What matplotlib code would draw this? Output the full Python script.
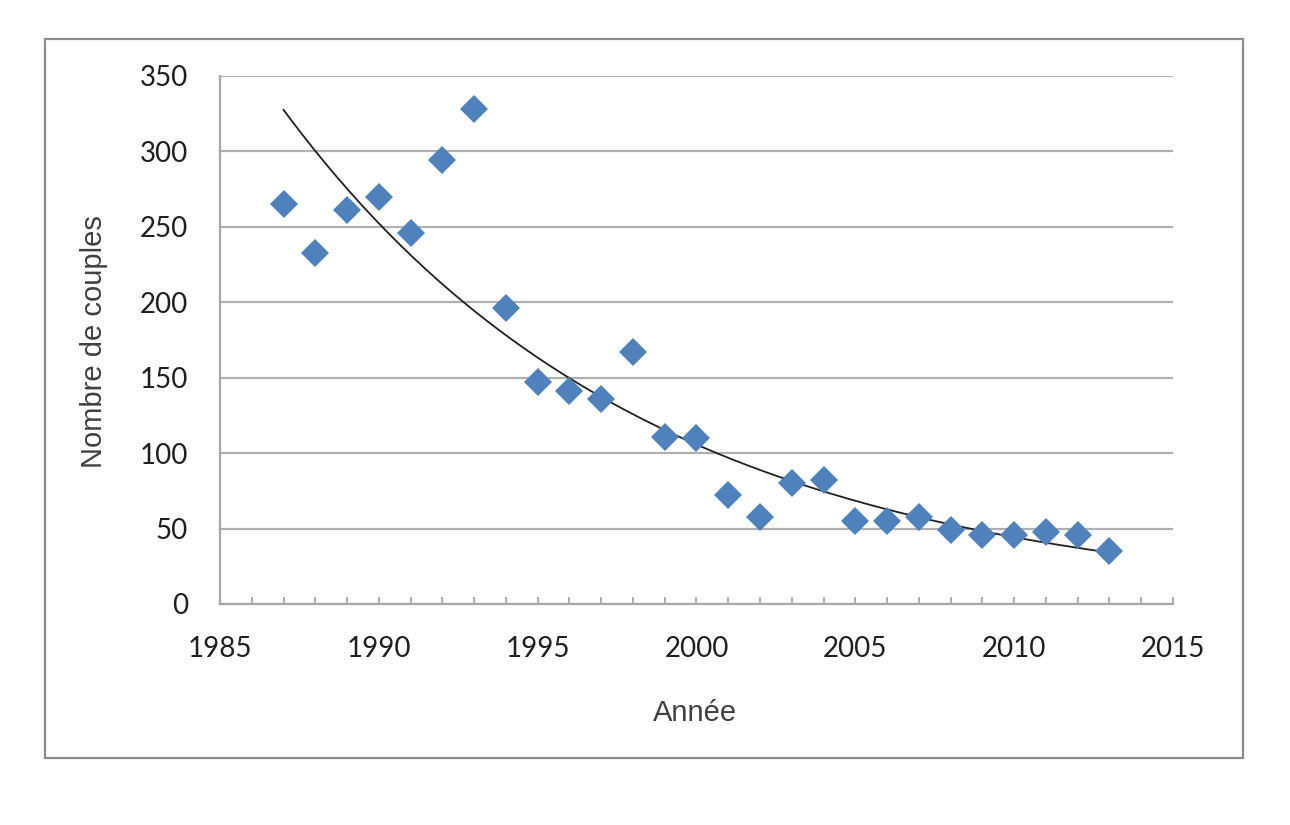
import numpy as np
import matplotlib
matplotlib.use("Agg")
import matplotlib.pyplot as plt
from matplotlib.patches import Rectangle
from matplotlib.ticker import MultipleLocator

years = [1987, 1988, 1989, 1990, 1991, 1992, 1993, 1994, 1995, 1996, 1997, 1998, 1999,
         2000, 2001, 2002, 2003, 2004, 2005, 2006, 2007, 2008, 2009, 2010, 2011, 2012, 2013]
couples = [265, 233, 261, 270, 246, 294, 328, 196, 147, 141, 136, 167, 111,
           110, 72, 58, 80, 82, 55, 55, 58, 49, 46, 46, 48, 46, 35]
x_ticks = [1985, 1990, 1995, 2000, 2005, 2010, 2015]
y_ticks = [0, 50, 100, 150, 200, 250, 300, 350]

fig = plt.figure(figsize=(12.9, 8.25), dpi=100)
ax = fig.add_axes([220/1290, 1 - 604/825, (1173-220)/1290, (604-76)/825])

# outer chart border
fig.patches.append(Rectangle((45/1290, 1 - 758/825), (1243-45)/1290, (758-39)/825,
                             transform=fig.transFigure, fill=False,
                             edgecolor="#8c8c8c", linewidth=1.6))

# exponential trend (least squares on log values)
yrs = np.array(years, dtype=float)
b, a = np.polyfit(yrs - yrs[0], np.log(couples), 1)
xs = np.linspace(yrs[0], yrs[-1], 200)
ax.plot(xs, np.exp(a + b * (xs - yrs[0])), color="#202020", linewidth=1.3, zorder=3)

ax.plot(years, couples, linestyle="none", marker="D", markersize=14.2,
        color="#4F81BD", markeredgewidth=0, zorder=4)

ax.set_xlim(1985, 2015)
ax.set_ylim(0, 350)
ax.set_xticks(x_ticks)
ax.set_yticks(y_ticks)
ax.xaxis.set_minor_locator(MultipleLocator(1))

ax.grid(axis="y", color="#b0b0b0", linewidth=1.6)
ax.set_axisbelow(True)
for s in ["top", "right"]:
    ax.spines[s].set_visible(False)
for s in ["left", "bottom"]:
    ax.spines[s].set_color("#a6a6a6")
    ax.spines[s].set_linewidth(1.6)

ax.tick_params(axis="x", which="both", direction="in", length=5, width=1.3,
               color="#a6a6a6", pad=23)
ax.tick_params(axis="y", which="both", length=0, pad=23)
for lab in ax.get_xticklabels() + ax.get_yticklabels():
    lab.set_fontfamily("Lato")
    lab.set_fontsize(20)
    lab.set_color("#1f1f1f")

ax.set_xlabel("Année", fontsize=21, color="#404040", family="Liberation Sans", va="center")
ax.xaxis.set_label_coords((695-220)/953, (604-713)/528)
ax.set_ylabel("Nombre de couples", fontsize=21, color="#404040", family="Liberation Sans", va="center")
ax.yaxis.set_label_coords((94-220)/953, (604-342)/528)

fig.savefig("out.png", dpi=100)
